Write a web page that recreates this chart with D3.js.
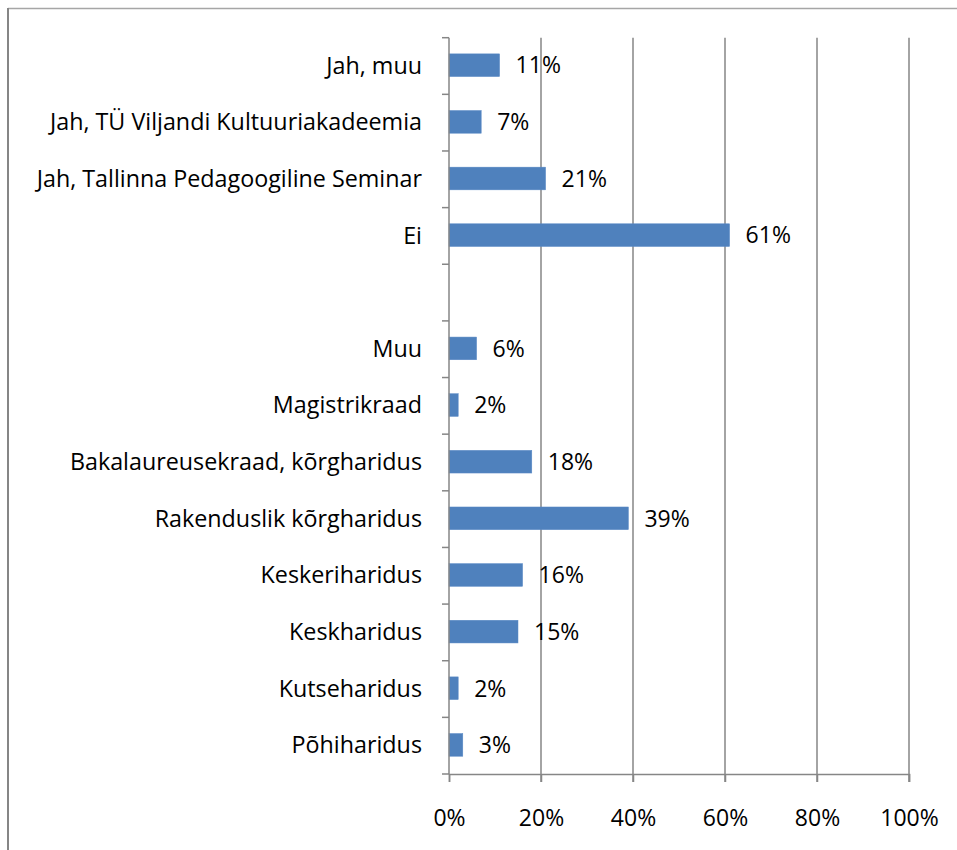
<!DOCTYPE html>
<html lang="et">
<head>
  <meta charset="utf-8">
  <title>bar chart</title>
  <style>
    body { margin: 0; background: #fff; }
    svg text { font-family: "Open Sans", "Noto Sans", sans-serif; fill: #000; }
  </style>
</head>
<body>
<svg id="chart" width="957" height="850"></svg>
<script src="https://d3js.org/d3.v7.min.js"></script>
<script>

// categories top to bottom, "" is the empty gap row
let categories = [
  "Jah, muu",
  "Jah, TÜ Viljandi Kultuuriakadeemia",
  "Jah, Tallinna Pedagoogiline Seminar",
  "Ei",
  "",
  "Muu",
  "Magistrikraad",
  "Bakalaureusekraad, kõrgharidus",
  "Rakenduslik kõrgharidus",
  "Keskeriharidus",
  "Keskharidus",
  "Kutseharidus",
  "Põhiharidus"
]
let values = [11, 7, 21, 61, null, 6, 2, 18, 39, 16, 15, 2, 3]
let xTicks = [0, 20, 40, 60, 80, 100]

let fontFam = "'Open Sans', 'Noto Sans', sans-serif"
let svg = d3.select("#chart")

// outer frame (only top and left visible)
svg.append("line").attr("x1", 8).attr("x2", 957).attr("y1", 8.5).attr("y2", 8.5)
  .attr("stroke", "#a6a6a6").attr("stroke-width", 1.5)
svg.append("line").attr("x1", 8).attr("x2", 8).attr("y1", 8).attr("y2", 850)
  .attr("stroke", "#868686").attr("stroke-width", 2)

let x = d3.scaleLinear().domain([0, 100]).range([449, 909])
let y = d3.scaleBand().domain(d3.range(categories.length)).range([37.7, 774]).paddingInner(0).paddingOuter(0)

let g = svg.append("g")

// gridlines
g.selectAll("line.grid").data(xTicks.slice(1)).enter().append("line")
  .attr("class", "grid")
  .attr("x1", d => x(d)).attr("x2", d => x(d))
  .attr("y1", y.range()[0]).attr("y2", y.range()[1] + 8)
  .attr("stroke", "#868686").attr("stroke-width", 1.5)

// bars
let barH = 22.7
let rows = values.map((v, i) => ({v: v, i: i})).filter(d => d.v != null)
g.selectAll("rect.bar").data(rows)
  .enter().append("rect")
  .attr("class", "bar")
  .attr("x", x(0))
  .attr("y", d => y(d.i) + y.bandwidth() / 2 - barH / 2 - 0.8)
  .attr("width", d => x(d.v) - x(0))
  .attr("height", barH)
  .attr("fill", "#4f81bd")
  .attr("stroke", "#5a8ac6").attr("stroke-width", 0.5)

// value labels
g.selectAll("text.val").data(rows)
  .enter().append("text")
  .attr("class", "val")
  .attr("x", d => x(d.v) + 16)
  .attr("y", d => y(d.i) + y.bandwidth() / 2 - 0.8)
  .attr("dy", "0.36em")
  .attr("font-size", 23)
  .text(d => d.v + "%")

// y axis
let yAxisX = x(0)
g.append("line").attr("x1", yAxisX).attr("x2", yAxisX)
  .attr("y1", y.range()[0]).attr("y2", y.range()[1])
  .attr("stroke", "#868686").attr("stroke-width", 1.5)
let bounds = d3.range(categories.length + 1).map(i => y.range()[0] + i * y.step())
g.selectAll("line.ytick").data(bounds).enter().append("line")
  .attr("x1", yAxisX - 7).attr("x2", yAxisX)
  .attr("y1", d => d).attr("y2", d => d)
  .attr("stroke", "#868686").attr("stroke-width", 1.5)

g.selectAll("text.cat").data(categories).enter().append("text")
  .attr("class", "cat")
  .attr("x", yAxisX - 27)
  .attr("y", (d, i) => y(i) + y.bandwidth() / 2 - 0.8)
  .attr("dy", "0.36em")
  .attr("text-anchor", "end")
  .attr("font-size", 23.3)
  .text(d => d)

// x axis
let xAxis = d3.axisBottom(x).tickValues(xTicks).tickSize(8).tickPadding(28).tickFormat(d => d + "%")
let ax = svg.append("g").attr("transform", "translate(0," + y.range()[1] + ")").call(xAxis)
ax.select(".domain").attr("stroke", "#868686").attr("stroke-width", 1.5)
ax.selectAll(".tick line").attr("stroke", "#868686").attr("stroke-width", 1.5)
ax.selectAll(".tick text").attr("font-size", 23).attr("font-family", fontFam).attr("fill", "#000")

</script>
</body>
</html>
